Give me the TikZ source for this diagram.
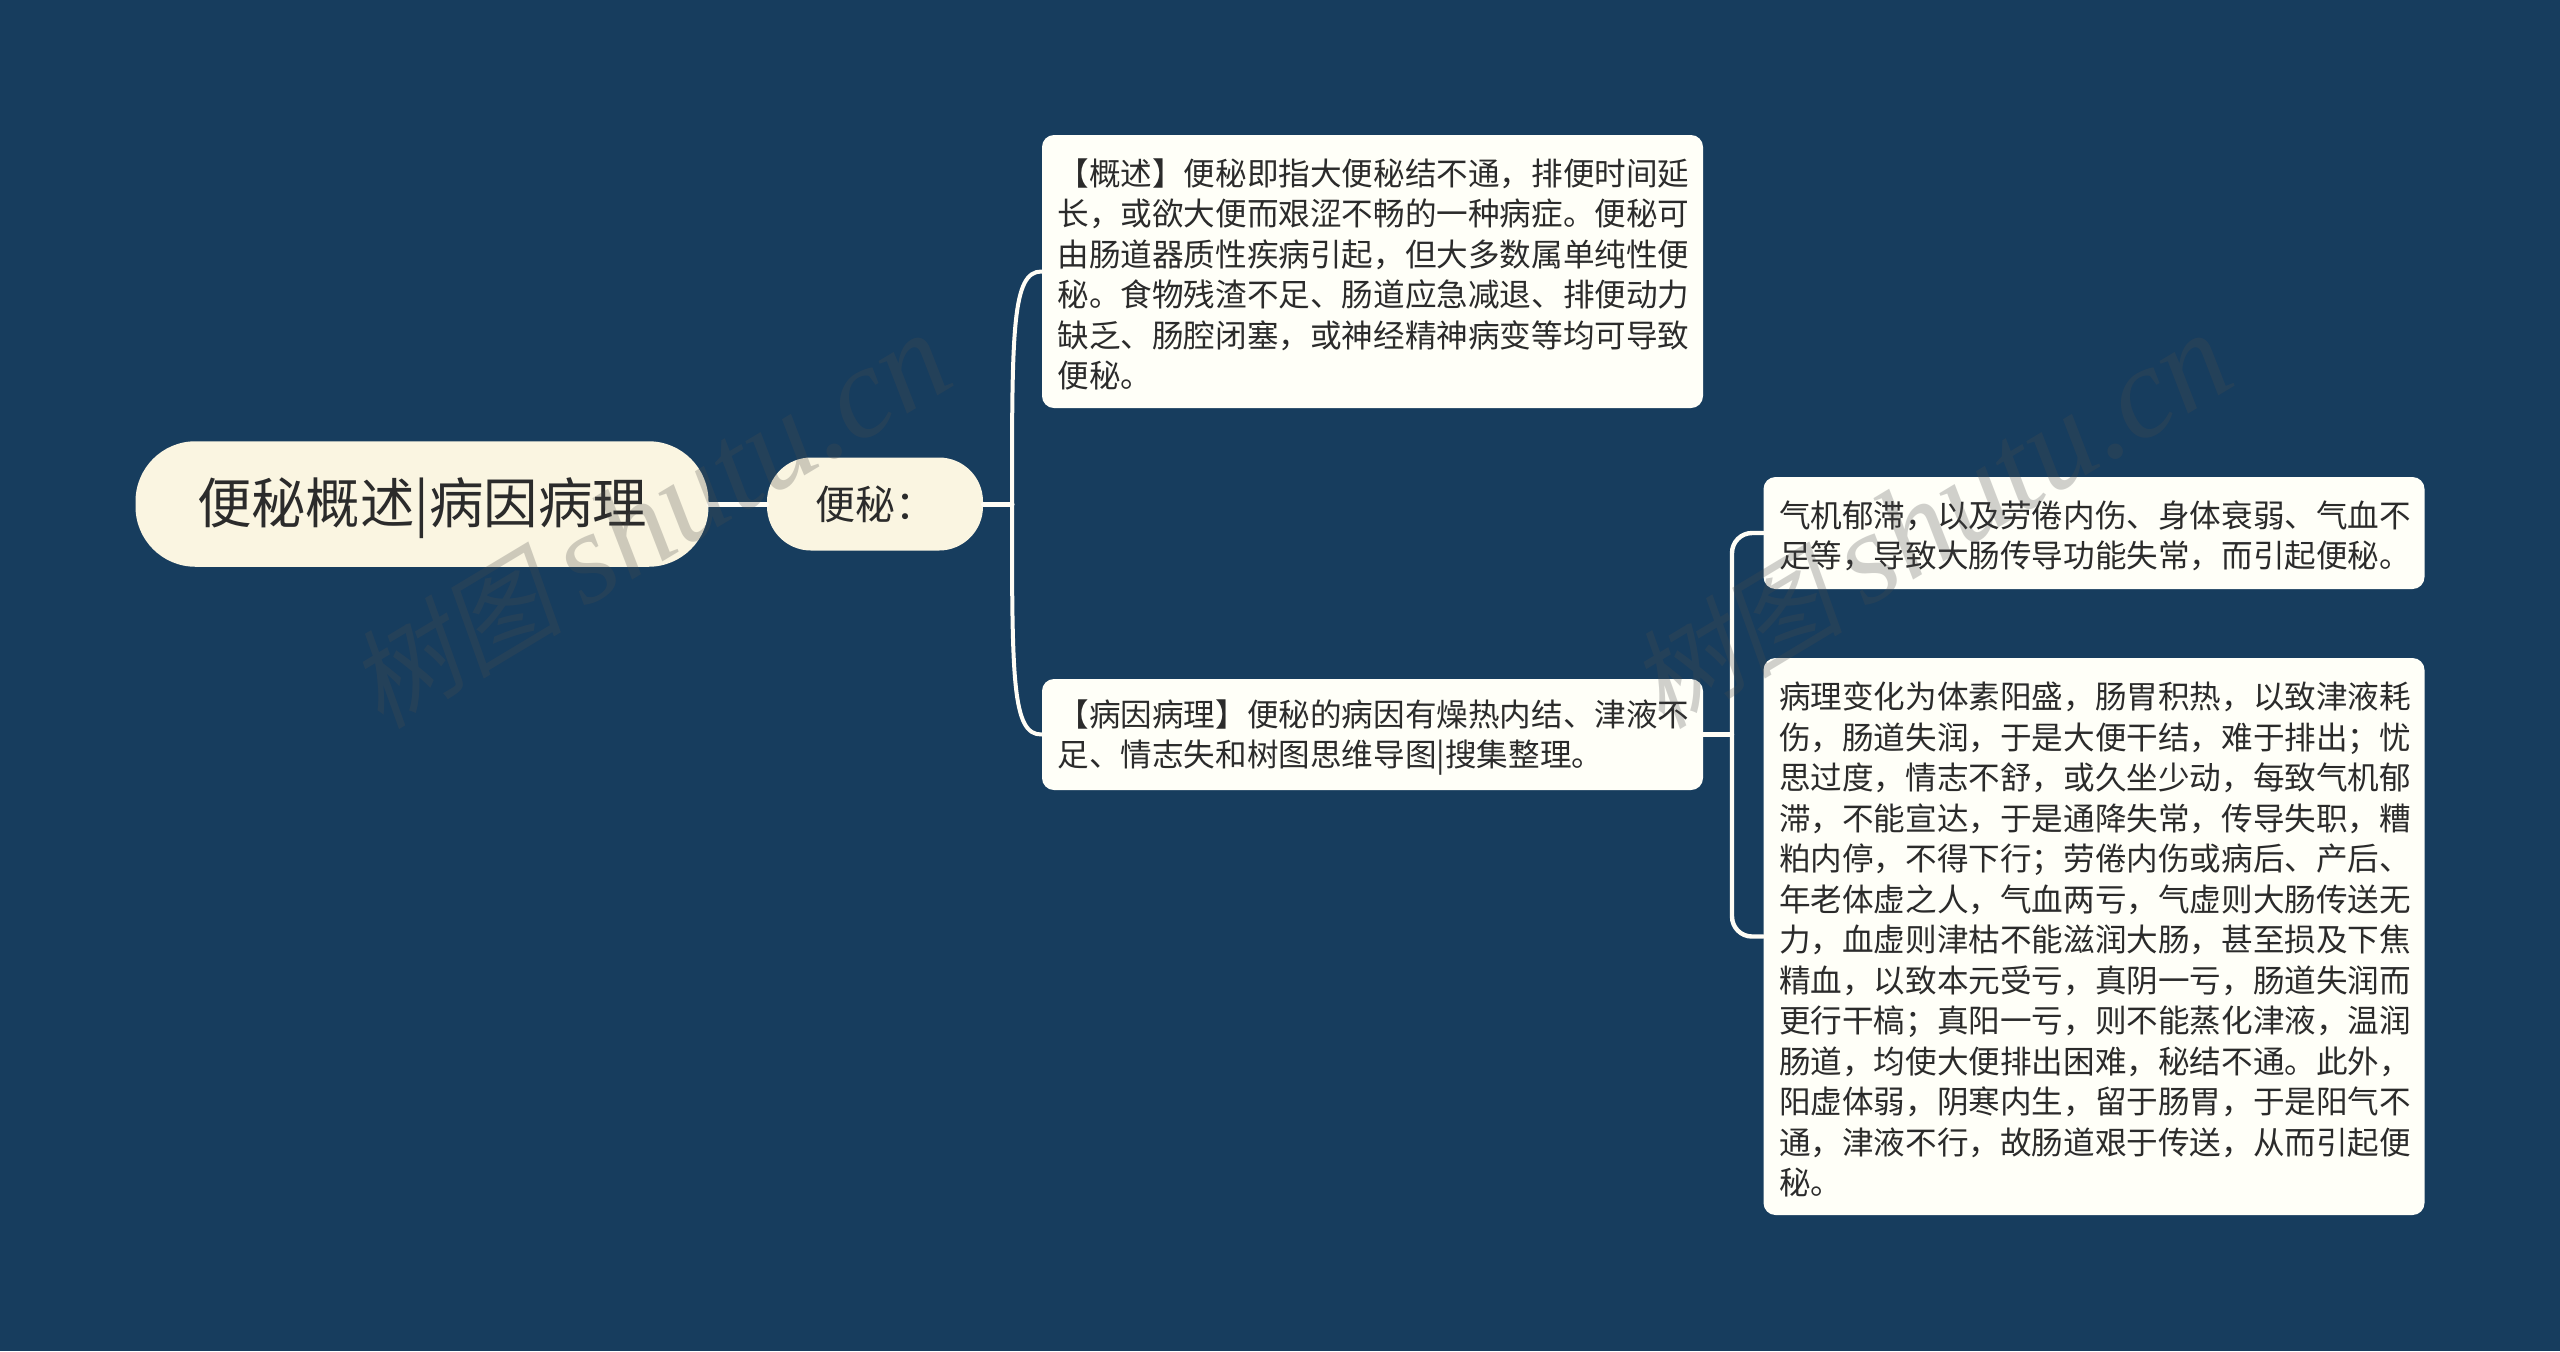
\documentclass[tikz,border=0pt]{standalone}
\usepackage{fontspec}
\setmainfont{Noto Sans CJK SC}
\newfontfamily\wmfont{Liberation Serif}
\newfontfamily\wmcjk[FakeSlant=0.2]{Noto Sans CJK SC}
\definecolor{bgc}{HTML}{173D5E}
\definecolor{rootc}{HTML}{FAF5E1}
\definecolor{boxc}{HTML}{FFFFF8}
\definecolor{linec}{HTML}{FFFDF5}
\definecolor{txtc}{HTML}{2B2B2B}
\definecolor{wmc}{HTML}{4D4D4D}
\newcommand{\bodyfont}{\fontsize{15.8pt}{20.25pt}\selectfont}
\newcommand{\wmtext}{{\wmcjk\fontsize{54pt}{60pt}\selectfont 树图}\,{\wmfont\itshape shutu.cn}}
\tikzset{
  x=0.5pt,y=-0.5pt,
  pill/.style={draw=none,fill=rootc,rounded corners=#1,inner sep=0pt,text=txtc,align=center},
  card/.style={draw=none,fill=boxc,rounded corners=6pt,inner sep=0pt,minimum width=330.5pt},
  cardtext/.style={inner sep=0pt,text=txtc,align=left,text width=315pt,font=\bodyfont,yshift=-1.5pt},
  conn/.style={draw=linec,line width=2pt,line cap=round},
  wm/.style={text=wmc,opacity=0.26,font=\fontsize{65pt}{65pt}\selectfont,rotate=31}
}
\begin{document}
\begin{tikzpicture}
\useasboundingbox (0,0) rectangle (2560,1351);
\fill[bgc] (0,0) rectangle (2560,1351);
\node[pill=30pt,minimum width=286.5pt,minimum height=62.75pt,font=\fontsize{27.2pt}{30pt}\selectfont] (root) at (422,504) {\rule{0pt}{27.5pt}便秘概述|病因病理};
\node[pill=22pt,minimum width=108pt,minimum height=46.5pt,font=\fontsize{20pt}{24pt}\selectfont] (sub) at (875,504) {便秘：};
\node[card,minimum height=136.5pt] (b1) at (1372.5,271.5) {};
\node[cardtext] (b1t) at (b1.center) {【概述】便秘即指大便秘结不通，排便时间延\\长，或欲大便而艰涩不畅的一种病症。便秘可\\由肠道器质性疾病引起，但大多数属单纯性便\\秘。食物残渣不足、肠道应急减退、排便动力\\缺乏、肠腔闭塞，或神经精神病变等均可导致\\便秘。};
\node[card,minimum height=55.5pt] (b2) at (1372.5,734.5) {};
\node[cardtext] (b2t) at (b2.center) {【病因病理】便秘的病因有燥热内结、津液不\\足、情志失和树图思维导图|搜集整理。};
\node[card,minimum height=56pt] (b3) at (2094,533) {};
\node[cardtext] (b3t) at (b3.center) {气机郁滞，以及劳倦内伤、身体衰弱、气血不\\足等，导致大肠传导功能失常，而引起便秘。};
\node[card,minimum height=278.5pt] (b4) at (2094,936.5) {};
\node[cardtext] (b4t) at (b4.center) {病理变化为体素阳盛，肠胃积热，以致津液耗\\伤，肠道失润，于是大便干结，难于排出；忧\\思过度，情志不舒，或久坐少动，每致气机郁\\滞，不能宣达，于是通降失常，传导失职，糟\\粕内停，不得下行；劳倦内伤或病后、产后、\\年老体虚之人，气血两亏，气虚则大肠传送无\\力，血虚则津枯不能滋润大肠，甚至损及下焦\\精血，以致本元受亏，真阴一亏，肠道失润而\\更行干槁；真阳一亏，则不能蒸化津液，温润\\肠道，均使大便排出困难，秘结不通。此外，\\阳虚体弱，阴寒内生，留于肠胃，于是阳气不\\通，津液不行，故肠道艰于传送，从而引起便\\秘。};
\coordinate (t1) at (1012,504);
\coordinate (t2) at (1732,734.5);
\draw[conn,line width=2.5pt] (root.east) -- (sub.west);
\draw[conn,line width=2.5pt] (sub.east) -- (t1);
\draw[conn] (t1) .. controls (1012,330) and (1012,271) .. (b1.west);
\draw[conn] (t1) .. controls (1012,680) and (1012,735) .. (b2.west);
\draw[conn,line width=2.2pt] (b2.east) -- (t2);
\draw[conn,line width=2.2pt,rounded corners=10pt] (b3.west) -| (t2) |- (b4.west);
\node[wm] (w1) at (649,522) {\wmtext};
\node[wm] (w2) at (1930,522) {\wmtext};
\end{tikzpicture}
\end{document}
